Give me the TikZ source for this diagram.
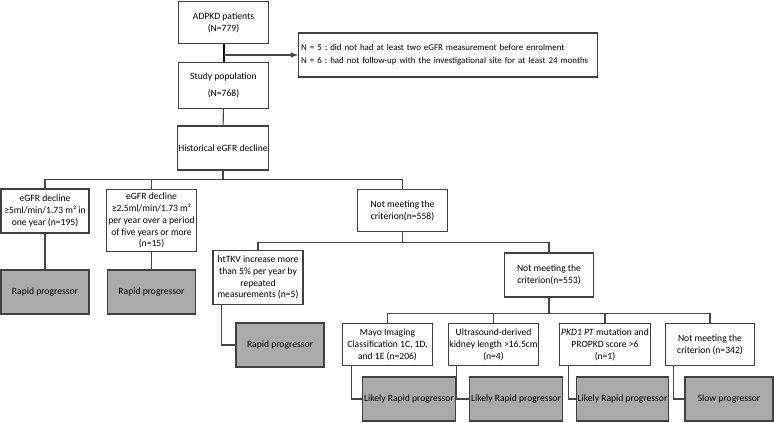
\documentclass[tikz,border=0pt]{standalone}
\usepackage{fontspec}
\setmainfont{Carlito}
\definecolor{boxline}{RGB}{64,64,64}
\definecolor{linkline}{RGB}{70,70,70}
\definecolor{endgray}{RGB}{170,170,170}
\tikzset{every picture/.style={line width=0.75pt}}
\tikzset{
	box/.style={draw=boxline, line width=0.8pt, minimum width=67pt, minimum height=33pt, align=center, inner sep=1pt, font=\fontsize{7.2}{8.9}\selectfont},
	endbox/.style={box, fill=endgray},
	link/.style={draw=linkline, line width=0.8pt}
}

\begin{document}
\frenchspacing
\begin{tikzpicture}[x=0.75pt,y=0.75pt,yscale=-1,xscale=1]
		\useasboundingbox (0,0) rectangle (774,422);
		
		%Screening
		\node[box, minimum width=68pt, minimum height=32pt] (adpkd) at (223.5,22.5) {ADPKD patients\\(N=779)};
		\node[box, anchor=west, align=left, text width=220pt, inner xsep=2pt, font=\fontsize{6.7}{9.6}\selectfont] (excl) at (298,55) {N = 5 : did not had at least two eGFR measurement before enrolment\\N = 6 : had not follow-up with the investigational site for at least 24 months};
		\node[box, minimum width=68pt, minimum height=34pt] (study) at (223.5,85.5) {Study population\\[4pt](N=768)};
		\node[box] (hist) at (223,148) {Historical eGFR decline};
		
		%eGFR criteria
		\node[box, minimum width=66pt] (declA) at (45,211) {eGFR decline\\≥5ml/min/1.73 m² in\\one year (n=195)};
		\node[box, minimum height=47pt] (declB) at (151.5,220.5) {eGFR decline\\≥2.5ml/min/1.73 m²\\per year over a period\\of five years or more\\(n=15)};
		\node[box, minimum height=32pt] (notA) at (402.5,210.5) {Not meeting the\\criterion(n=558)};
		\node[endbox, minimum width=66pt] (rapidA) at (45,292) {Rapid progressor};
		\node[endbox, minimum width=66pt] (rapidB) at (151.5,292) {Rapid progressor};
		
		%htTKV criterion
		\node[box, minimum width=67.5pt, minimum height=40pt] (httkv) at (258,277.5) {htTKV increase more\\than 5\% per year by\\repeated\\measurements (n=5)};
		\node[endbox, minimum width=66pt] (rapidC) at (280,345) {Rapid progressor};
		\node[box] (notB) at (549,275) {Not meeting the\\criterion(n=553)};
		
		%imaging / genetic criteria
		\node[box, minimum height=32pt] (mayo) at (387.5,344.5) {Mayo Imaging\\Classification 1C, 1D,\\and 1E (n=206)};
		\node[box, minimum height=32pt] (usound) at (493.5,344.5) {Ultrasound-derived\\kidney length >16.5cm\\(n=4)};
		\node[box, minimum height=32pt] (pkd) at (605,344.5) {\textit{PKD1 PT} mutation and\\PROPKD score >6\\(n=1)};
		\node[box, minimum height=32pt] (notC) at (710,344.5) {Not meeting the\\criterion (n=342)};
		\node[endbox, minimum width=66pt] (likelyA) at (409,399) {Likely Rapid progressor};
		\node[endbox, minimum width=66pt] (likelyB) at (516,399) {Likely Rapid progressor};
		\node[endbox, minimum width=66pt] (likelyC) at (622.5,399) {Likely Rapid progressor};
		\node[endbox, minimum width=66pt] (slow) at (729,399) {Slow progressor};
		
		%connectors
		\draw[link, draw=black, line width=1.5pt] (adpkd) -- (study);
		\draw[link, -latex] (adpkd.south |- excl.west) -- (excl.west);
		\draw[link] (study) -- (hist);
		\draw[link] (hist.south) -- ++(0,9) coordinate (busA);
		\draw[link] (declA.north) |- (busA) -| (notA.north);
		\draw[link] (declB.north) -- (declB.north |- busA);
		\draw[link] (declA) -- (rapidA);
		\draw[link] (declB) -- (rapidB);
		\draw[link] (notA.south) -- ++(0,10) coordinate (busB);
		\draw[link] (httkv.north) |- (busB) -| (notB.north);
		\draw[link] ([xshift=6.75pt]httkv.south west) |- (rapidC.west);
		\draw[link] (notB.south) -- ++(0,16) coordinate (busC);
		\draw[link] (mayo.north) |- (busC) -| (notC.north);
		\draw[link] (usound.north) -- (usound.north |- busC);
		\draw[link] (pkd.north) -- (pkd.north |- busC);
		\draw[link] ([xshift=6.75pt]mayo.south west) |- (likelyA.west);
		\draw[link] ([xshift=6.75pt]usound.south west) |- (likelyB.west);
		\draw[link] ([xshift=6.75pt]pkd.south west) |- (likelyC.west);
		\draw[link] ([xshift=6.75pt]notC.south west) |- (slow.west);
		
\end{tikzpicture}
\end{document}
